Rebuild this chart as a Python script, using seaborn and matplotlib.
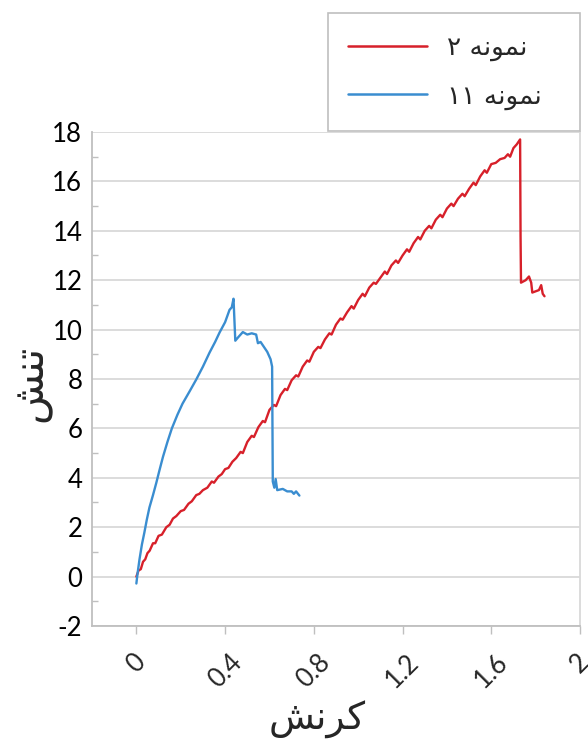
import matplotlib
matplotlib.use("Agg")
import matplotlib.pyplot as plt
import seaborn as sns
import pandas as pd
from matplotlib.patches import Rectangle
from matplotlib.lines import Line2D

# ---------------- data ----------------
sample2_strain = [0.000, 0.010, 0.020, 0.030, 0.040, 0.050, 0.060, 0.075, 0.085, 0.100,
                  0.115, 0.135, 0.150, 0.165, 0.180, 0.200, 0.215, 0.235, 0.250, 0.270,
                  0.284, 0.300, 0.320, 0.340, 0.350, 0.370, 0.385, 0.400, 0.415, 0.433,
                  0.450, 0.470, 0.480, 0.500, 0.520, 0.530, 0.550, 0.570, 0.580, 0.600,
                  0.620, 0.630, 0.650, 0.670, 0.680, 0.700, 0.720, 0.730, 0.750, 0.770,
                  0.780, 0.800, 0.820, 0.830, 0.850, 0.870, 0.880, 0.900, 0.920, 0.930,
                  0.950, 0.970, 0.980, 1.000, 1.020, 1.030, 1.050, 1.070, 1.080, 1.100,
                  1.120, 1.130, 1.150, 1.170, 1.180, 1.200, 1.220, 1.230, 1.250, 1.270,
                  1.280, 1.300, 1.320, 1.330, 1.350, 1.370, 1.380, 1.400, 1.420, 1.430,
                  1.450, 1.470, 1.480, 1.500, 1.520, 1.530, 1.550, 1.570, 1.580, 1.600,
                  1.620, 1.640, 1.660, 1.675, 1.685, 1.700, 1.715, 1.730, 1.732, 1.734,
                  1.755, 1.770, 1.780, 1.785, 1.800, 1.815, 1.825, 1.832, 1.840]
sample2_stress = [0.00, 0.25, 0.30, 0.60, 0.70, 0.95, 1.05, 1.35, 1.35, 1.65,
                  1.70, 2.00, 2.10, 2.35, 2.45, 2.65, 2.70, 2.95, 3.05, 3.30,
                  3.35, 3.50, 3.60, 3.85, 3.80, 4.05, 4.15, 4.35, 4.40, 4.65,
                  4.80, 5.05, 5.00, 5.45, 5.70, 5.65, 6.05, 6.30, 6.25, 6.75,
                  6.95, 6.90, 7.35, 7.60, 7.55, 7.95, 8.15, 8.10, 8.50, 8.75,
                  8.70, 9.10, 9.30, 9.25, 9.60, 9.85, 9.80, 10.20, 10.45, 10.40,
                  10.70, 10.95, 10.85, 11.20, 11.45, 11.35, 11.70, 11.90, 11.85, 12.10,
                  12.35, 12.25, 12.60, 12.80, 12.70, 13.00, 13.25, 13.15, 13.50, 13.75,
                  13.65, 14.00, 14.20, 14.10, 14.45, 14.65, 14.55, 14.90, 15.10, 15.00,
                  15.30, 15.50, 15.40, 15.70, 15.95, 15.85, 16.20, 16.45, 16.35, 16.70,
                  16.75, 16.90, 16.95, 17.10, 17.00, 17.35, 17.50, 17.70, 13.80, 11.90,
                  12.00, 12.15, 11.90, 11.50, 11.55, 11.60, 11.80, 11.45, 11.35]

sample11_strain = [0.000, 0.005, 0.014, 0.025, 0.036, 0.047, 0.059, 0.075, 0.090, 0.104,
                   0.120, 0.140, 0.160, 0.185, 0.208, 0.240, 0.270, 0.300, 0.330, 0.355,
                   0.375, 0.400, 0.420, 0.430, 0.438, 0.446, 0.460, 0.480, 0.500, 0.520,
                   0.540, 0.548, 0.560, 0.575, 0.590, 0.605, 0.612, 0.615, 0.622, 0.628,
                   0.635, 0.660, 0.680, 0.700, 0.710, 0.720, 0.735]
sample11_stress = [-0.28, 0.10, 0.69, 1.30, 1.78, 2.30, 2.80, 3.30, 3.80, 4.30,
                   4.85, 5.45, 6.00, 6.55, 7.00, 7.50, 7.98, 8.50, 9.07, 9.50,
                   9.88, 10.30, 10.80, 10.90, 11.25, 9.55, 9.70, 9.90, 9.80, 9.85,
                   9.80, 9.45, 9.50, 9.30, 9.10, 8.80, 8.50, 3.85, 3.60, 3.95,
                   3.50, 3.55, 3.45, 3.45, 3.35, 3.45, 3.28]

x_ticks = [0, 0.4, 0.8, 1.2, 1.6, 2]
x_tick_labels = ["0", "0.4", "0.8", "1.2", "1.6", "2"]
y_ticks = [-2, 0, 2, 4, 6, 8, 10, 12, 14, 16, 18]
y_minor_ticks = [-1, 1, 3, 5, 7, 9, 11, 13, 15, 17]

# Persian text (Arabic presentation forms, visual order)
label_sample2 = "\u06F2 \uFEEA\uFEE7\uFEEE\uFEE4\uFEE7"     # نمونه ۲
label_sample11 = "\u06F1\u06F1 \uFEEA\uFEE7\uFEEE\uFEE4\uFEE7"  # نمونه ۱۱
x_label = "\uFEB6\uFEE7\uFEAE\uFB90"   # کرنش
y_label = "\uFEB6\uFEE8\uFE97"         # تنش

red = "#D7202A"
blue = "#3A8DD0"

# ---------------- style ----------------
sns.set_theme(style="white")
plt.rcParams["font.family"] = ["Lato", "DejaVu Sans"]
plt.rcParams["axes.unicode_minus"] = False

df = pd.concat([
    pd.DataFrame({"strain": sample2_strain, "stress": sample2_stress, "series": label_sample2}),
    pd.DataFrame({"strain": sample11_strain, "stress": sample11_stress, "series": label_sample11}),
], ignore_index=True)

W, H = 588, 745
fig = plt.figure(figsize=(W / 100, H / 100), dpi=100)
ax = fig.add_axes([92 / W, 119 / H, 488 / W, 494 / H])

sns.lineplot(data=df, x="strain", y="stress", hue="series",
             hue_order=[label_sample2, label_sample11],
             palette={label_sample2: red, label_sample11: blue},
             estimator=None, sort=False, linewidth=1.7, legend=False, ax=ax)

ax.set_xlim(-0.2, 2.0)
ax.set_ylim(-2, 18)
ax.set_xticks(x_ticks)
ax.set_xticklabels(x_tick_labels)
ax.set_yticks(y_ticks)
ax.set_yticks(y_minor_ticks, minor=True)

grid_c = "#D9D9D9"
ax.yaxis.grid(True, color=grid_c, linewidth=1.3)
ax.xaxis.grid(False)
ax.set_axisbelow(True)

for side in ["left", "bottom"]:
    ax.spines[side].set_color("#BFBFBF")
    ax.spines[side].set_linewidth(1.3)
ax.spines["right"].set_color(grid_c)
ax.spines["right"].set_linewidth(1.3)
ax.spines["top"].set_visible(False)

ax.tick_params(axis="y", which="major", length=0, pad=7, labelsize=18.5, colors="black")
ax.tick_params(axis="y", which="minor", direction="in", length=4, width=1, color="#BFBFBF", left=True)
ax.tick_params(axis="x", which="major", direction="out", length=6, width=1, color="#BFBFBF",
               pad=11, labelsize=18.5, labelrotation=45, bottom=True)

ax.set_xlabel(x_label, fontsize=27, family=["DejaVu Sans"])
ax.set_ylabel(y_label, fontsize=30, family=["DejaVu Sans"])
ax.xaxis.label.set_va("center")
ax.yaxis.label.set_va("center")
ax.xaxis.set_label_coords((317 - 92) / 488, (626 - 720) / 494)
ax.yaxis.set_label_coords((30 - 92) / 488, (626 - 383) / 494)

# legend box (frame drawn separately to match the reference box)
fig.patches.append(Rectangle((328 / W, 1 - 131 / H), 252 / W, 118 / H,
                             transform=fig.transFigure, facecolor="white",
                             edgecolor="#BFBFBF", linewidth=1.2, zorder=5))
handles = [Line2D([], [], color=red, lw=1.8), Line2D([], [], color=blue, lw=1.8)]
leg = fig.legend(handles, [label_sample2, label_sample11], loc="upper left",
                 bbox_to_anchor=(348 / W, 1 - 35 / H), frameon=False,
                 prop={"family": ["DejaVu Sans"], "size": 19},
                 handlelength=3.0, handletextpad=0.75, labelspacing=0.85,
                 borderpad=0, borderaxespad=0)
leg.set_zorder(6)

fig.savefig("out.png", dpi=100)
